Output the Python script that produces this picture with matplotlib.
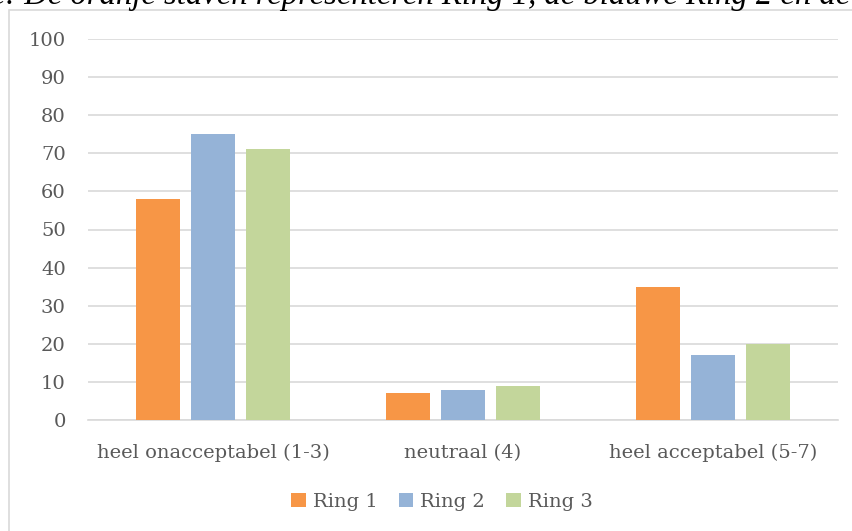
import matplotlib.pyplot as plt
import numpy as np
from matplotlib.patches import Rectangle

categories = ['heel onacceptabel (1-3)', 'neutraal (4)', 'heel acceptabel (5-7)']
series_names = ['Ring 1', 'Ring 2', 'Ring 3']
ring1 = [58, 7, 35]
ring2 = [75, 8, 17]
ring3 = [71, 9, 20]
colors = ['#F79646', '#95B3D7', '#C3D69B']
yticks = list(range(0, 101, 10))

caption_head = 'Annotatie: '
caption_body = 'De oranje staven representeren Ring 1, de blauwe Ring 2 en de groene Ring 3.'

plt.rcParams['font.family'] = ['DejaVu Serif']
txt = '#595959'
W, H = 853, 531

fig = plt.figure(figsize=(W / 100, H / 100), dpi=100)
renderer = fig.canvas.get_renderer()

# cropped caption line at the very top: only its lower part is visible.
# size it so "De ... blauwe Rin" spans ~708 px, starting at x=25
cap_kw = dict(style='italic', family=['Liberation Serif', 'DejaVu Serif'])
probe = fig.text(0, 0, 'De oranje staven representeren Ring 1, de blauwe Rin', fontsize=10, **cap_kw)
w10 = probe.get_window_extent(renderer).width
probe.remove()
cap_size = 10 * 708 / w10
probe = fig.text(0, 0, caption_head, fontsize=cap_size, **cap_kw)
head_w = probe.get_window_extent(renderer).width
probe.remove()
fig.text((25 - head_w) / W, 1.0 - 4 / H, caption_head + caption_body, fontsize=cap_size,
         color='black', va='baseline', ha='left', **cap_kw)

# chart area border
fig.patches.append(Rectangle((9 / W, -0.1), 1.0, 1.0 - 10 / H + 0.1, transform=fig.transFigure,
                             fill=False, edgecolor='#D9D9D9', linewidth=1.2))

ax = fig.add_axes([88 / W, 1 - 420 / H, 750 / W, 381 / H])

x = np.arange(len(categories))
w = 0.176
step = 0.22
for i, (vals, name) in enumerate(zip([ring1, ring2, ring3], series_names)):
    ax.bar(x + (i - 1) * step, vals, width=w, color=colors[i], label=name, zorder=3)

ax.set_xlim(-0.5, 2.5)
ax.set_ylim(0, 100)
ax.set_yticks(yticks)
ax.set_xticks(x)
ax.set_xticklabels(categories)
ax.grid(axis='y', color='#D9D9D9', linewidth=1.2, zorder=0)
for s in ['top', 'right', 'left']:
    ax.spines[s].set_visible(False)
ax.spines['bottom'].set_color('#D9D9D9')
ax.spines['bottom'].set_linewidth(1.2)
ax.tick_params(axis='both', length=0, labelsize=14, colors=txt)
ax.tick_params(axis='y', pad=16)
ax.tick_params(axis='x', pad=17)

fig.legend(loc='center', bbox_to_anchor=(442 / W, 1 - 502 / H), ncol=3, frameon=False,
           fontsize=14, labelcolor=txt, handlelength=0.75, handleheight=0.75,
           handletextpad=0.35, columnspacing=1.1)

fig.savefig('out.png', dpi=100)
